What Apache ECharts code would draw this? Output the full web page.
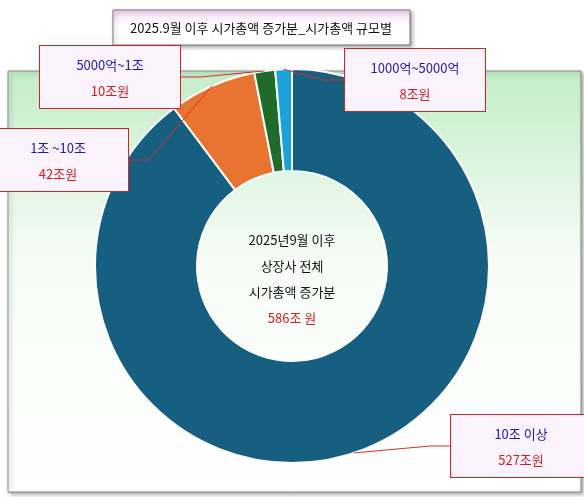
<!DOCTYPE html><html><head><meta charset="utf-8">
<script src="https://cdn.jsdelivr.net/npm/echarts@6/dist/echarts.min.js"></script>
<style>html,body{margin:0;padding:0;background:#fff}#c{width:584px;height:497px}</style></head><body><div id="c"></div>
<script>
const categories=['10조 이상','1조 ~10조','5000억~1조','1000억~5000억'];
const values=[527,42,10,8];
const valueLabels=['527조원','42조원','10조원','8조원'];
const colors=['#175f80','#e97432','#1e6b2a','#1aa3d9'];
const labelPos=[[521,446],[58,160],[110,77],[415,80]];
const centerLines=['2025년9월 이후','상장사 전체','시가총액 증가분','586조 원'];
const chart=echarts.init(document.getElementById('c'));
const F='"Noto Sans CJK KR",sans-serif';
chart.setOption({
 graphic:[
  {type:'rect',shape:{x:8,y:71,width:573,height:421},style:{fill:{type:'linear',x:0,y:0,x2:0,y2:1,colorStops:[{offset:0,color:'#c3edc8'},{offset:0.45,color:'#f7fcf7'},{offset:1,color:'#ffffff'}]},stroke:'#8a8a8a',lineWidth:1,shadowColor:'rgba(0,0,0,0.35)',shadowBlur:4,shadowOffsetX:2,shadowOffsetY:2},z:-10},
  {type:'rect',shape:{x:113,y:10,width:297,height:35},style:{fill:{type:'linear',x:0,y:0,x2:0,y2:1,colorStops:[{offset:0,color:'#f3d8f3'},{offset:0.4,color:'#ffffff'},{offset:1,color:'#ffffff'}]},stroke:'#777',lineWidth:1,shadowColor:'rgba(0,0,0,0.35)',shadowBlur:4,shadowOffsetX:2,shadowOffsetY:2},z:-5},
  {type:'text',x:261,y:28,style:{text:'2025.9월 이후 시가총액 증가분_시가총액 규모별',font:'13px '+F,fill:'#111',align:'center',verticalAlign:'middle'},z:10},
  ...centerLines.map((t,i)=>({type:'text',x:292,y:240+i*26,style:{text:t,font:'13px '+F,fill:i===3?'#d02020':'#111',align:'center',verticalAlign:'middle'},z:10}))
 ],
 series:[{type:'pie',center:[292,266],radius:[95,197],startAngle:90,clockwise:true,
  itemStyle:{borderColor:'#fff',borderWidth:2},
  data:categories.map((c,i)=>({name:c,value:values[i],itemStyle:{color:colors[i]}})),
  label:{show:true,overflow:'none',width:120,align:'center',formatter:p=>'{a|'+p.name+'}\n{b|'+valueLabels[p.dataIndex]+'}',
   backgroundColor:'#fcf2fc',borderColor:'#c82828',borderWidth:1,padding:[6,10,4,10],
   rich:{a:{color:'#1a1ab0',fontSize:13,fontFamily:F,lineHeight:26,align:'center'},b:{color:'#d02020',fontSize:13,fontFamily:F,lineHeight:26,align:'center'}}},
  labelLine:{show:true,showAbove:true,lineStyle:{color:'#d03030',width:1},length:20,length2:20},
  labelLayout:p=>({x:labelPos[p.dataIndex][0],y:labelPos[p.dataIndex][1],align:'center',verticalAlign:'middle'})
 }]
});
</script></body></html>
